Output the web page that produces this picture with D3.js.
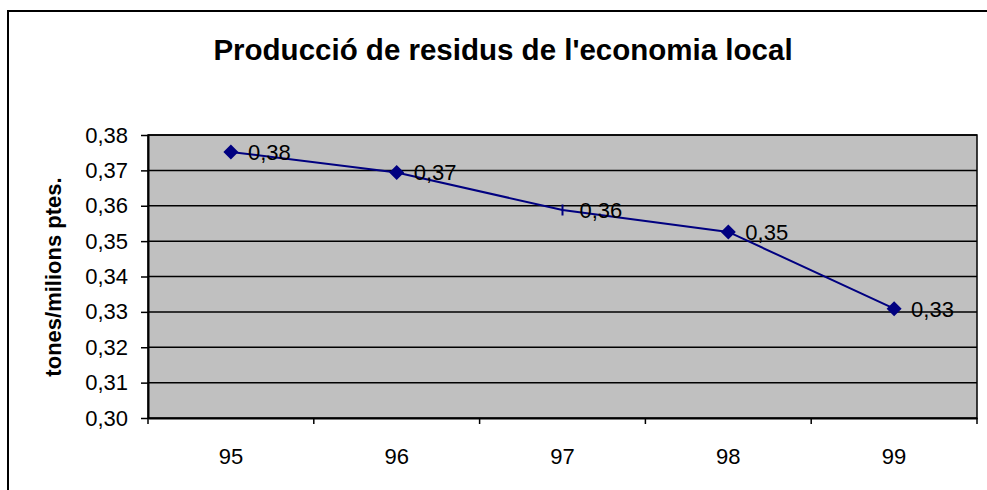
<!DOCTYPE html>
<html>
<head>
<meta charset="utf-8">
<script src="https://cdn.jsdelivr.net/npm/d3@7"></script>
<style>
body { margin: 0; background: #fff; }
svg { display: block; font-family: "Liberation Sans", Arial, sans-serif; }
</style>
</head>
<body>
<svg class="chart" width="987" height="490"></svg>
<script>
// dades
var anys = ["95", "96", "97", "98", "99"];
var valors = [0.3752, 0.3694, 0.3588, 0.3526, 0.3309];
var ticksY = [0.30, 0.31, 0.32, 0.33, 0.34, 0.35, 0.36, 0.37, 0.38];
var titol = "Producció de residus de l'economia local";
var titolY = "tones/milions ptes.";

var esq = 148, dre = 977, dalt = 135, baix = 418;

var chart = d3.select(".chart");

// marc exterior
chart.append("rect")
	.attr("x", 8).attr("y", 11)
	.attr("width", 1000).attr("height", 500)
	.attr("fill", "none")
	.attr("stroke", "#000")
	.attr("stroke-width", 2);

var x = d3.scaleBand()
	.domain(anys)
	.range([esq, dre]);

var y = d3.scaleLinear()
	.domain([0.30, 0.38])
	.range([baix, dalt]);

var fmt = function(d) { return d.toFixed(2).replace(".", ","); };

// area del grafic
chart.append("rect")
	.attr("x", esq).attr("y", dalt)
	.attr("width", dre - esq).attr("height", baix - dalt)
	.attr("fill", "#c0c0c0")
	.attr("stroke", "#000")
	.attr("stroke-width", 1.5);

chart.append("g")
	.selectAll("line")
	.data(ticksY.slice(1))
	.enter().append("line")
	.attr("x1", esq).attr("x2", dre)
	.attr("y1", function(d) { return y(d); })
	.attr("y2", function(d) { return y(d); })
	.attr("stroke", "#000")
	.attr("stroke-width", 1.5);

// eix Y
var eixY = chart.append("g")
	.attr("transform", "translate(" + esq + ",0)")
	.call(d3.axisLeft(y).tickValues(ticksY).tickFormat(fmt).tickSize(7).tickPadding(13).tickSizeOuter(0));
eixY.select(".domain").attr("stroke-width", 2);
eixY.selectAll(".tick line").attr("stroke-width", 1.5);
eixY.selectAll("text").style("font-size", "22px").attr("fill", "#000")
	.style("font-family", "'Liberation Sans', Arial, sans-serif");

// eix X
var eixX = chart.append("g")
	.attr("transform", "translate(0," + baix + ")")
	.call(d3.axisBottom(x).tickSize(0).tickPadding(30).tickSizeOuter(0));
eixX.select(".domain").attr("stroke-width", 2);
eixX.selectAll("text").style("font-size", "22px").attr("fill", "#000")
	.style("font-family", "'Liberation Sans', Arial, sans-serif");

var limits = anys.map(function(d) { return x(d); }).concat([x.range()[1]]);
chart.append("g")
	.selectAll("line")
	.data(limits)
	.enter().append("line")
	.attr("x1", function(d) { return d; })
	.attr("x2", function(d) { return d; })
	.attr("y1", baix).attr("y2", baix + 6)
	.attr("stroke", "#000")
	.attr("stroke-width", 1.5);

// linia
var punts = anys.map(function(a, i) { return { any: a, valor: valors[i] }; });
var cx = function(d) { return x(d.any) + x.bandwidth() / 2; };

chart.append("path")
	.datum(punts)
	.attr("fill", "none")
	.attr("stroke", "#000080")
	.attr("stroke-width", 2)
	.attr("d", d3.line().x(cx).y(function(d) { return y(d.valor); }));

var marques = chart.append("g")
	.selectAll("g")
	.data(punts)
	.enter().append("g")
	.attr("transform", function(d) { return "translate(" + cx(d) + "," + y(d.valor) + ")"; });

marques.filter(function(d) { return d.any !== "97"; })
	.append("path")
	.attr("d", "M0,-7.5L7.5,0L0,7.5L-7.5,0Z")
	.attr("fill", "#000080");

marques.filter(function(d) { return d.any === "97"; })
	.append("line")
	.attr("y1", -5.5).attr("y2", 5.5)
	.attr("stroke", "#000080")
	.attr("stroke-width", 2);

marques.append("text")
	.attr("x", 17)
	.attr("dy", "0.36em")
	.style("font-size", "22px")
	.text(function(d) { return fmt(d.valor); });

// titols
chart.append("text")
	.attr("x", 503)
	.attr("y", 60)
	.attr("text-anchor", "middle")
	.style("font-size", "29.5px")
	.style("font-weight", "bold")
	.text(titol);

chart.append("text")
	.attr("transform", "translate(61,277) rotate(-90)")
	.attr("text-anchor", "middle")
	.style("font-size", "22px")
	.style("font-weight", "bold")
	.text(titolY);
</script>
</body>
</html>
